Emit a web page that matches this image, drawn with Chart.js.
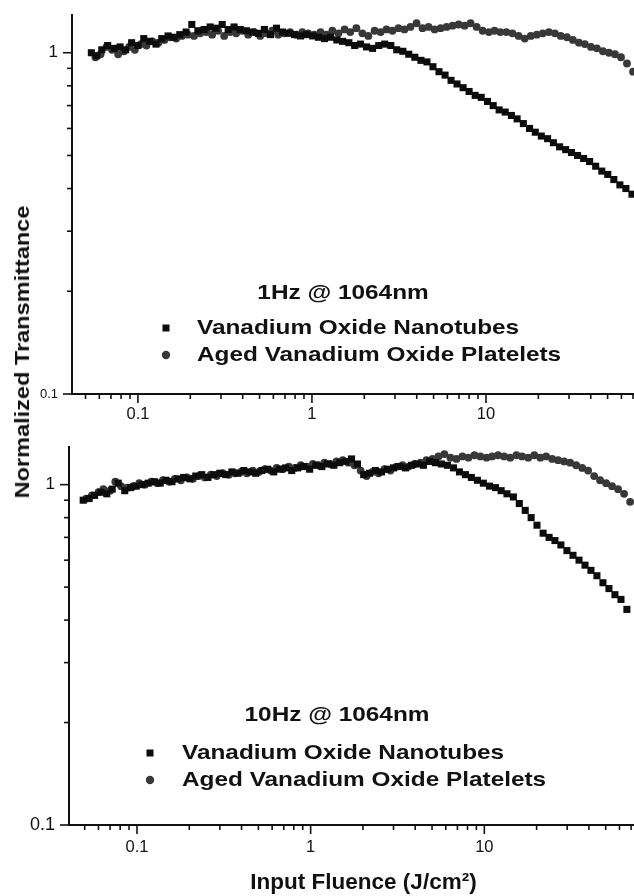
<!DOCTYPE html>
<html>
<head>
<meta charset="utf-8">
<script src="https://cdn.jsdelivr.net/npm/chart.js@4.4.1/dist/chart.umd.min.js"></script>
<style>
  html, body { margin: 0; padding: 0; background: #fff; overflow: hidden; width: 634px; height: 896px; }
  #wrap { position: relative; width: 634px; height: 896px; overflow: hidden; }
  canvas { position: absolute; left: 0; }
  #c1 { top: 0; }
  #c2 { top: 430px; }
  #ytitle {
    position: absolute; left: 22px; top: 352px; z-index: 2;
    transform: translate(-50%, -50%) rotate(-90deg) scaleX(1.12);
    font: bold 21px "Liberation Sans", Arial, sans-serif; color: #111; white-space: nowrap;
  }
</style>
</head>
<body>
<div id="wrap">
  <canvas id="c1" width="660" height="430"></canvas>
  <canvas id="c2" width="660" height="466"></canvas>
  <div id="ytitle">Normalized Transmittance</div>
</div>
<script>
// ---- 1 Hz @ 1064 nm ----
const fluence1HzNanotubes = [0.054,0.058,0.062,0.067,0.073,0.079,0.085,0.092,0.1,0.108,0.117,0.127,0.137,0.149,0.161,0.174,0.189,0.204,0.221,0.24,0.26,0.28,0.305,0.33,0.357,0.387,0.42,0.454,0.492,0.533,0.578,0.626,0.678,0.734,0.795,0.86,0.93,1.01,1.09,1.18,1.28,1.39,1.5,1.63,1.76,1.9,2.06,2.23,2.42,2.62,2.84,3.07,3.33,3.6,3.9,4.23,4.58,4.96,5.37,5.82,6.3,6.82,7.39,8.0,8.67,9.39,10.2,11.0,11.9,12.9,14.0,15.1,16.4,17.8,19.2,20.8,22.6,24.4,26.5,28.7,31.0,33.6,36.4,39.4,42.7,46.3,50.1,54.3,58.8,63.7,69.0];
const trans1HzNanotubes = [1.00,0.98,1.02,1.05,1.03,1.04,1.02,1.07,1.05,1.10,1.08,1.06,1.10,1.12,1.11,1.13,1.15,1.21,1.16,1.17,1.19,1.18,1.21,1.17,1.19,1.17,1.16,1.15,1.14,1.17,1.13,1.18,1.15,1.14,1.13,1.12,1.13,1.12,1.11,1.10,1.11,1.09,1.08,1.07,1.05,1.06,1.04,1.03,1.05,1.06,1.05,1.02,1.01,0.99,0.97,0.95,0.94,0.91,0.88,0.86,0.83,0.81,0.79,0.77,0.75,0.74,0.72,0.70,0.68,0.67,0.655,0.64,0.62,0.60,0.585,0.57,0.56,0.545,0.53,0.52,0.51,0.50,0.49,0.48,0.465,0.45,0.44,0.425,0.41,0.40,0.385];
const fluence1HzPlatelets = [0.057,0.061,0.066,0.071,0.077,0.083,0.089,0.096,0.104,0.112,0.121,0.131,0.142,0.153,0.166,0.179,0.194,0.21,0.228,0.247,0.267,0.289,0.313,0.339,0.367,0.397,0.43,0.466,0.504,0.546,0.591,0.64,0.693,0.75,0.812,0.88,0.952,1.03,1.12,1.21,1.31,1.42,1.54,1.66,1.8,1.95,2.11,2.29,2.48,2.68,2.9,3.14,3.4,3.68,3.99,4.32,4.68,5.07,5.49,5.94,6.43,6.96,7.54,8.16,8.84,9.57,10.4,11.2,12.1,13.1,14.2,15.4,16.7,18.1,19.6,21.2,23.0,24.9,26.9,29.2,31.6,34.2,37.0,40.1,43.4,47.0,50.9,55.1,59.7,64.6,70.0];
const trans1HzPlatelets = [0.97,0.99,1.04,1.02,0.99,1.01,1.04,1.02,1.06,1.05,1.08,1.07,1.09,1.11,1.10,1.12,1.13,1.12,1.14,1.15,1.13,1.16,1.12,1.15,1.14,1.16,1.13,1.15,1.12,1.14,1.16,1.13,1.14,1.15,1.13,1.15,1.14,1.13,1.15,1.13,1.16,1.14,1.17,1.15,1.18,1.14,1.12,1.16,1.15,1.17,1.16,1.18,1.17,1.19,1.22,1.18,1.19,1.17,1.18,1.19,1.20,1.21,1.20,1.22,1.19,1.16,1.15,1.16,1.15,1.15,1.14,1.12,1.10,1.12,1.13,1.14,1.15,1.14,1.12,1.11,1.09,1.07,1.06,1.04,1.03,1.01,1.00,0.99,0.97,0.93,0.88];

// ---- 10 Hz @ 1064 nm ----
const fluence10HzNanotubes = [0.049,0.053,0.057,0.062,0.067,0.072,0.078,0.085,0.092,0.099,0.107,0.116,0.126,0.136,0.147,0.159,0.172,0.186,0.202,0.218,0.236,0.256,0.277,0.3,0.325,0.352,0.381,0.412,0.446,0.483,0.523,0.566,0.613,0.664,0.719,0.778,0.842,0.912,0.987,1.07,1.16,1.25,1.36,1.47,1.59,1.72,1.86,2.02,2.18,2.36,2.56,2.77,3.0,3.25,3.52,3.81,4.12,4.46,4.83,5.23,5.66,6.13,6.64,7.19,7.78,8.42,9.12,9.87,10.7,11.6,12.5,13.5,14.7,15.9,17.2,18.6,20.1,21.8,23.6,25.5,27.6,29.9,32.4,35.1,38.0,41.1,44.5,48.2,52.2,56.5,61.2,66.2];
const trans10HzNanotubes = [0.90,0.91,0.93,0.95,0.94,0.97,1.01,0.96,0.98,0.99,1.00,1.01,1.02,1.01,1.03,1.02,1.04,1.05,1.04,1.06,1.07,1.05,1.07,1.08,1.07,1.09,1.08,1.10,1.09,1.08,1.10,1.11,1.09,1.11,1.12,1.10,1.12,1.13,1.11,1.14,1.13,1.15,1.14,1.16,1.17,1.19,1.15,1.07,1.08,1.10,1.09,1.11,1.12,1.13,1.12,1.14,1.15,1.14,1.17,1.16,1.15,1.14,1.12,1.09,1.07,1.05,1.03,1.01,0.99,0.98,0.96,0.94,0.92,0.88,0.84,0.80,0.76,0.72,0.70,0.685,0.665,0.64,0.62,0.60,0.58,0.56,0.54,0.515,0.495,0.475,0.46,0.43];
const fluence10HzPlatelets = [0.051,0.055,0.06,0.064,0.07,0.075,0.081,0.088,0.095,0.103,0.111,0.121,0.131,0.141,0.153,0.165,0.179,0.194,0.21,0.227,0.246,0.266,0.288,0.312,0.338,0.366,0.396,0.429,0.464,0.503,0.544,0.589,0.638,0.691,0.748,0.81,0.877,0.95,1.03,1.11,1.2,1.3,1.41,1.53,1.65,1.79,1.94,2.1,2.27,2.46,2.66,2.88,3.12,3.38,3.66,3.96,4.29,4.64,5.03,5.44,5.89,6.38,6.91,7.48,8.1,8.77,9.49,10.3,11.1,12.0,13.0,14.1,15.3,16.5,17.9,19.4,21.0,22.7,24.6,26.6,28.8,31.2,33.8,36.6,39.6,42.9,46.4,50.3,54.4,58.9,63.8,69.1];
const trans10HzPlatelets = [0.91,0.93,0.95,0.97,0.96,1.02,0.99,0.98,0.99,1.01,1.00,1.02,1.01,1.03,1.02,1.04,1.03,1.05,1.04,1.06,1.05,1.07,1.06,1.08,1.07,1.08,1.09,1.08,1.10,1.09,1.11,1.10,1.12,1.11,1.13,1.12,1.14,1.13,1.15,1.14,1.16,1.15,1.17,1.18,1.16,1.14,1.10,1.06,1.09,1.08,1.11,1.10,1.13,1.14,1.13,1.15,1.16,1.18,1.19,1.21,1.23,1.20,1.19,1.21,1.20,1.22,1.21,1.20,1.21,1.22,1.21,1.20,1.22,1.21,1.20,1.22,1.20,1.21,1.19,1.18,1.17,1.16,1.14,1.12,1.10,1.06,1.03,1.01,0.99,0.97,0.94,0.89];

// ---- axes ----
const xTickValues = [0.05,0.06,0.07,0.08,0.09,0.1,0.2,0.3,0.4,0.5,0.6,0.7,0.8,0.9,1,2,3,4,5,6,7,8,9,10,20,30,40,50,60,70,80,90,100];
const xTickLabels = [0.1, 1, 10];
const yTickValues = [0.1,0.2,0.3,0.4,0.5,0.6,0.7,0.8,0.9,1];
const yTickLabels = [0.1, 1];
const seriesNames = ['Vanadium Oxide Nanotubes', 'Aged Vanadium Oxide Platelets'];

const FONT = '"Liberation Sans", Arial, Helvetica, sans-serif';
const INK = '#111';

function points(xs, ys) { return xs.map((x, i) => ({ x: x, y: ys[i] })); }
function isDecade(v) { const l = Math.log10(v); return Math.abs(l - Math.round(l)) < 1e-6; }

// Outward tick marks: long at decades, short in between
const tickMarks = {
  id: 'tickMarks',
  afterDraw(chart) {
    const ctx = chart.ctx, xs = chart.scales.x, ys = chart.scales.y;
    ctx.save();
    ctx.strokeStyle = INK;
    ctx.lineWidth = 1.6;
    xs.ticks.forEach(t => {
      const px = xs.getPixelForValue(t.value);
      const len = isDecade(t.value) ? 9 : 5;
      ctx.beginPath(); ctx.moveTo(px, xs.top); ctx.lineTo(px, xs.top + len); ctx.stroke();
    });
    ys.ticks.forEach(t => {
      const py = ys.getPixelForValue(t.value);
      const len = isDecade(t.value) ? 9 : 5;
      ctx.beginPath(); ctx.moveTo(ys.right, py); ctx.lineTo(ys.right - len, py); ctx.stroke();
    });
    ctx.restore();
  }
};

// In-plot legend block with a heading line
const panelLegend = {
  id: 'panelLegend',
  afterDraw(chart, args, o) {
    const ctx = chart.ctx;
    const stretch = o.stretch;
    function text(str, x, y, align) {
      ctx.save();
      ctx.font = 'bold ' + o.fontSize + 'px ' + FONT;
      ctx.fillStyle = INK;
      ctx.textBaseline = 'middle';
      const w = ctx.measureText(str).width * stretch;
      const x0 = align === 'center' ? x - w / 2 : x;
      ctx.translate(x0, y);
      ctx.scale(stretch, 1);
      ctx.textAlign = 'left';
      ctx.fillText(str, 0, 0);
      ctx.restore();
    }
    text(o.heading, o.headingX, o.headingY, 'center');
    chart.data.datasets.forEach((ds, i) => {
      const y = o.rowY[i];
      ctx.save();
      ctx.fillStyle = ds.backgroundColor;
      if (ds.pointStyle === 'rect') {
        ctx.fillRect(o.markerX - 3.5, y - 3.5, 7, 7);
      } else {
        ctx.beginPath(); ctx.arc(o.markerX, y, 4.2, 0, Math.PI * 2); ctx.fill();
      }
      ctx.restore();
      text(ds.label, o.textX, y, 'left');
    });
  }
};

function makeChart(id, cfg) {
  return new Chart(document.getElementById(id), {
    type: 'scatter',
    data: {
      datasets: [
        { label: seriesNames[0], data: points(cfg.ntX, cfg.ntY), pointStyle: 'rect', pointRadius: 5,
          backgroundColor: '#0c0c0c', borderWidth: 0, showLine: false },
        { label: seriesNames[1], data: points(cfg.plX, cfg.plY), pointStyle: 'circle', pointRadius: 3.9,
          backgroundColor: '#383838', borderWidth: 0, showLine: false }
      ]
    },
    options: {
      responsive: false,
      animation: false,
      events: [],
      layout: { autoPadding: false, padding: { top: cfg.padTop, right: cfg.padRight, left: 0, bottom: 0 } },
      plugins: {
        legend: { display: false },
        tooltip: { enabled: false },
        panelLegend: cfg.legend
      },
      scales: {
        x: {
          type: 'logarithmic', bounds: 'data', min: cfg.xMin, max: 100,
          afterBuildTicks: s => { s.ticks = xTickValues.map(v => ({ value: v })); },
          afterFit: s => { s.height = cfg.xHeight; s.paddingLeft = 0; s.paddingRight = 0; },
          grid: { display: false, drawTicks: false },
          border: { display: true, color: INK, width: 2 },
          ticks: {
            autoSkip: false, maxRotation: 0, minRotation: 0, padding: cfg.xPad, color: INK,
            font: { family: FONT, size: 16.5 },
            callback: v => xTickLabels.includes(v) ? String(v) : ''
          },
          title: cfg.xTitle
        },
        y: {
          type: 'logarithmic', bounds: 'data', min: 0.1, max: 1.29,
          afterBuildTicks: s => { s.ticks = yTickValues.map(v => ({ value: v })); },
          afterFit: s => { s.width = cfg.yWidth; s.paddingTop = 0; s.paddingBottom = 0; },
          grid: { display: false, drawTicks: false },
          border: { display: true, color: INK, width: 2 },
          ticks: {
            autoSkip: false, padding: 14, color: INK,
            font: c => ({ family: FONT, size: (c.tick && c.tick.value === 0.1) ? cfg.lowLabelSize : 17 }),
            callback: v => yTickLabels.includes(v) ? String(v) : ''
          }
        }
      }
    },
    plugins: [tickMarks, panelLegend]
  });
}

makeChart('c1', {
  ntX: fluence1HzNanotubes, ntY: trans1HzNanotubes,
  plX: fluence1HzPlatelets, plY: trans1HzPlatelets,
  padTop: 15, padRight: 0, xMin: 0.0418, xHeight: 36, yWidth: 72, xPad: 11, lowLabelSize: 13,
  xTitle: { display: false },
  legend: { heading: '1Hz @ 1064nm', headingX: 343, headingY: 293, rowY: [328, 355],
            markerX: 166, textX: 197, fontSize: 21, stretch: 1.16 }
});

makeChart('c2', {
  ntX: fluence10HzNanotubes, ntY: trans10HzNanotubes,
  plX: fluence10HzPlatelets, plY: trans10HzPlatelets,
  padTop: 17, padRight: 2, xMin: 0.0406, xHeight: 71, yWidth: 69, xPad: 13, lowLabelSize: 18,
  xTitle: { display: true, text: 'Input Fluence (J/cm\u00B2)', color: INK,
            font: { family: FONT, size: 22.5, weight: 'bold' }, padding: { top: 0, bottom: 0 } },
  legend: { heading: '10Hz @ 1064nm', headingX: 337, headingY: 285, rowY: [323, 350],
            markerX: 150, textX: 182, fontSize: 21, stretch: 1.16 }
});
</script>
</body>
</html>
